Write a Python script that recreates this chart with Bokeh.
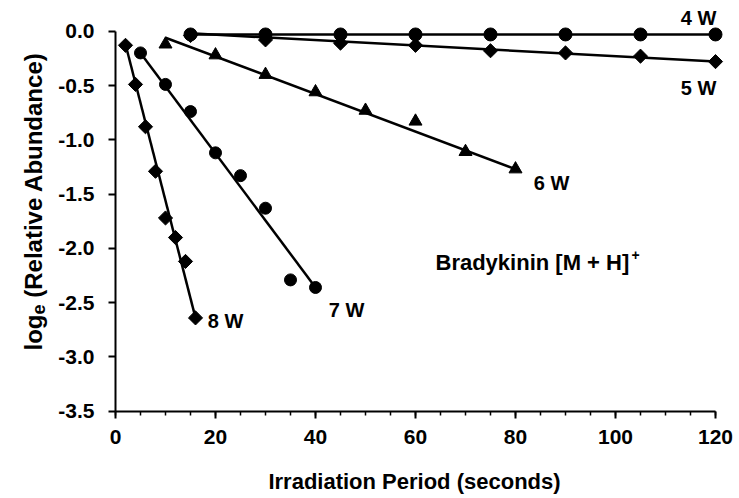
import math
from bokeh.plotting import figure
from bokeh.models import Label, Range1d, FixedTicker, PrintfTickFormatter, LinearAxis
from bokeh.embed import file_html
from bokeh.resources import INLINE

# ---- data ----
t_8w = [2, 4, 6, 8, 10, 12, 14, 16]
y_8w = [-0.13, -0.49, -0.88, -1.29, -1.72, -1.90, -2.12, -2.64]
t_7w = [5, 10, 15, 20, 25, 30, 35, 40]
y_7w = [-0.20, -0.49, -0.74, -1.12, -1.33, -1.63, -2.29, -2.36]
t_6w = [10, 20, 30, 40, 50, 60, 70, 80]
y_6w = [-0.12, -0.22, -0.40, -0.56, -0.73, -0.83, -1.11, -1.27]
t_5w = [15, 30, 45, 60, 75, 90, 105, 120]
y_5w = [-0.04, -0.08, -0.11, -0.13, -0.18, -0.20, -0.23, -0.28]
t_4w = [15, 30, 45, 60, 75, 90, 105, 120]
y_4w = [-0.03, -0.03, -0.03, -0.03, -0.03, -0.03, -0.03, -0.03]

# fitted lines (end points)
fit_t_8w = [2, 16];   fit_y_8w = [-0.12, -2.64]
fit_t_7w = [5, 40];   fit_y_7w = [-0.20, -2.36]
fit_t_6w = [10, 80];  fit_y_6w = [-0.06, -1.27]
fit_t_5w = [15, 120]; fit_y_5w = [-0.02, -0.28]
fit_t_4w = [15, 120]; fit_y_4w = [-0.03, -0.03]

x_ticks = [0, 20, 40, 60, 80, 100, 120]
x_minor = [0, 5, 10, 15, 20, 25, 30, 35, 40, 45, 50, 55, 60, 65, 70, 75, 80, 85, 90, 95, 100, 105, 110, 115, 120]
y_ticks = [-3.5, -3.0, -2.5, -2.0, -1.5, -1.0, -0.5, 0.0]

series_labels = ["4 W", "5 W", "6 W", "7 W", "8 W"]
title_text = "Bradykinin [M + H]"
title_sup = "+"
x_title = "Irradiation Period (seconds)"
y_title_parts = ["log", "e", "\u00a0(Relative Abundance)"]

FONT = "Liberation Sans"

# the plotting frame spans the whole canvas; axes are pinned at x=0 / y=-3.5
p = figure(frame_width=739, frame_height=498,
           min_border_left=0, min_border_right=0,
           min_border_top=0, min_border_bottom=0,
           x_range=Range1d(-23, 124.8), y_range=Range1d(-4.303, 0.2827),
           x_axis_type=None, y_axis_type=None,
           output_backend="svg", toolbar_location=None)
p.xgrid.visible = False
p.ygrid.visible = False
p.outline_line_color = None
p.background_fill_color = "white"
p.border_fill_color = "white"

xaxis = LinearAxis(fixed_location=-3.5, bounds=(0, 120),
                   ticker=FixedTicker(ticks=x_ticks, minor_ticks=x_minor))
yaxis = LinearAxis(fixed_location=0, bounds=(-3.5, 0),
                   ticker=FixedTicker(ticks=y_ticks, minor_ticks=[]),
                   formatter=PrintfTickFormatter(format="%.1f"))
for ax in (xaxis, yaxis):
    ax.axis_line_width = 2
    ax.axis_line_color = "black"
    ax.major_tick_line_width = 2
    ax.minor_tick_line_width = 1.5
    ax.major_tick_in = 0
    ax.minor_tick_in = 0
    ax.major_tick_out = 7
    ax.minor_tick_out = 4
    ax.major_label_text_font = FONT
    ax.major_label_text_font_style = "bold"
    ax.major_label_text_font_size = "21px"
    ax.major_label_text_color = "black"
xaxis.major_label_standoff = 12
yaxis.major_label_standoff = 14
p.add_layout(xaxis, "below")
p.add_layout(yaxis, "left")

LW = 2.5
for tx, ty in [(fit_t_8w, fit_y_8w), (fit_t_7w, fit_y_7w), (fit_t_6w, fit_y_6w),
               (fit_t_5w, fit_y_5w), (fit_t_4w, fit_y_4w)]:
    p.line(tx, ty, line_color="black", line_width=LW)

p.scatter(t_8w, y_8w, marker="square", angle=math.pi / 4, size=10, color="black")
p.scatter(t_7w, y_7w, marker="circle", size=12, color="black")
p.scatter(t_6w, y_6w, marker="triangle", size=13, color="black")
p.scatter(t_5w, y_5w, marker="square", angle=math.pi / 4, size=10, color="black")
p.scatter(t_4w, y_4w, marker="circle", size=13, color="black")


def lab(x, y, text, size="20px", align="center", baseline="middle", angle=0.0):
    p.add_layout(Label(x=x, y=y, text=text, text_font=FONT, text_font_style="bold",
                       text_font_size=size, text_align=align, text_baseline=baseline,
                       angle=angle, text_color="black"))


lab(116.6, 0.126, series_labels[0])
lab(116.6, -0.519, series_labels[1])
lab(87.2, -1.394, series_labels[2])
lab(46.2, -2.565, series_labels[3])
lab(22.0, -2.667, series_labels[4])
lab(64.0, -2.132, title_text, size="22px", align="left")
lab(103.2, -2.058, title_sup, size="14px", align="left")

# axis titles
lab(59.8, -4.147, x_title, size="22px")
up = math.pi / 2
lab(-16.4, -2.940, y_title_parts[0], size="24px", align="left", baseline="alphabetic", angle=up)
lab(-15.4, -2.609, y_title_parts[1], size="18px", align="left", baseline="alphabetic", angle=up)
lab(-16.4, -2.516, y_title_parts[2], size="24px", align="left", baseline="alphabetic", angle=up)

open("out.html", "w").write(file_html(p, INLINE))
